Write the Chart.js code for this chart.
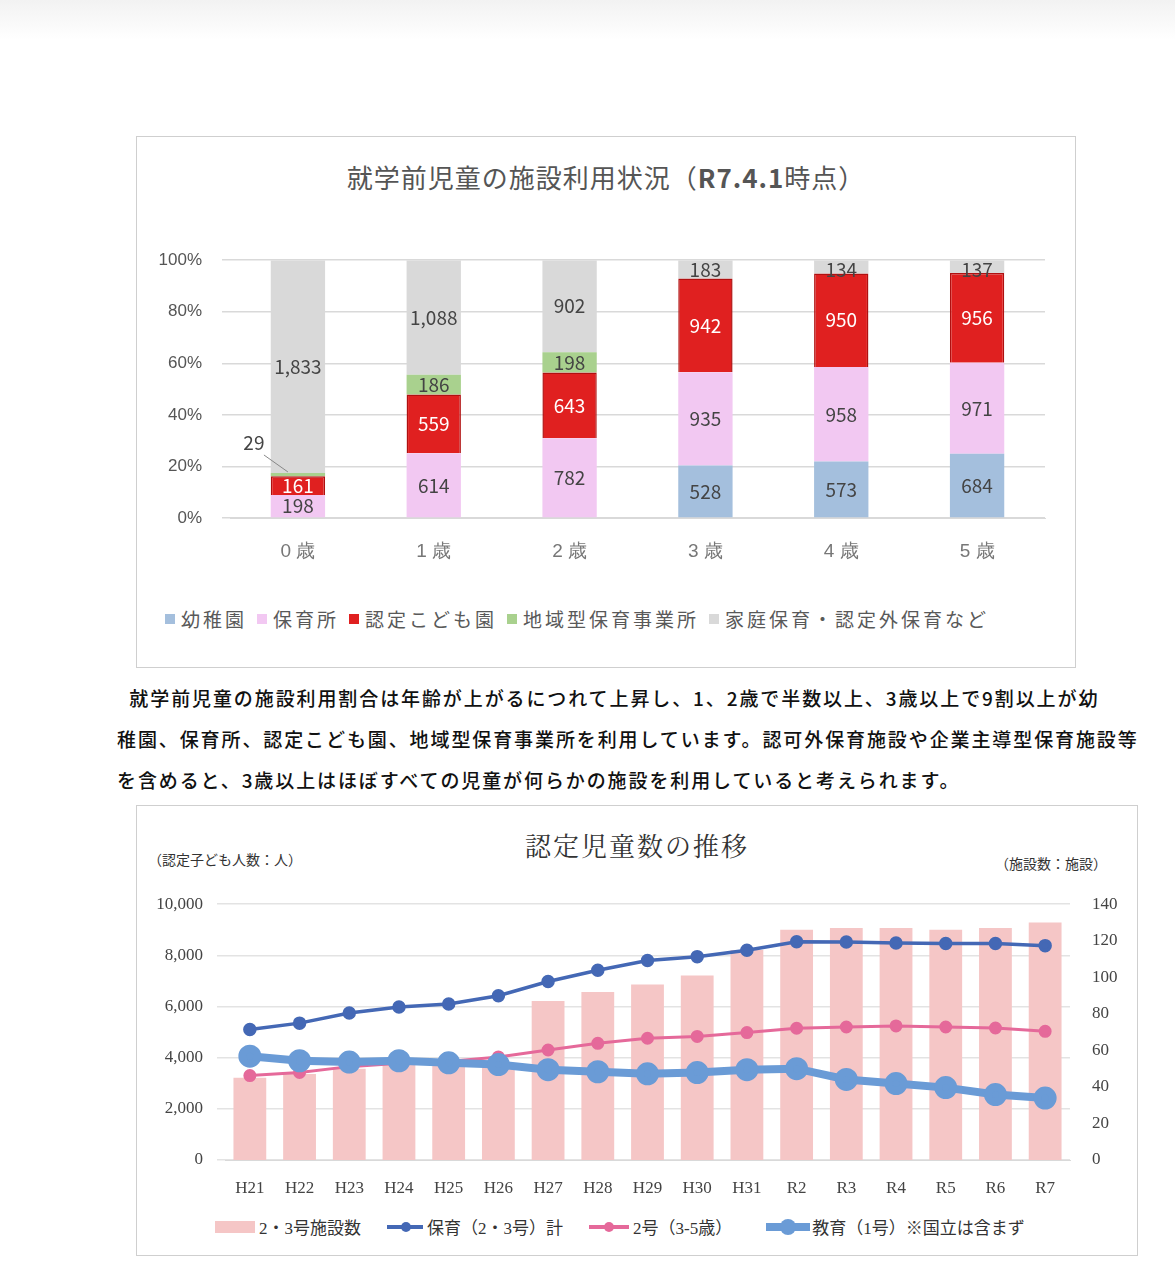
<!DOCTYPE html>
<html><head><meta charset="utf-8">
<script src="https://cdn.jsdelivr.net/npm/chart.js@4"></script>
<style>
body{margin:0;width:1175px;height:1265px;background:#fff;position:relative;font-family:"Noto Sans CJK JP",sans-serif;overflow:hidden}
.abs{position:absolute}
.box{position:absolute;border:1.5px solid #cfcfcf;box-sizing:border-box}
.leg{display:flex;align-items:center;white-space:nowrap}
.leg span{display:inline-flex;align-items:center}
.sq{display:inline-block;width:10px;height:10px;margin-right:6px}
</style></head><body>
<div class="abs" style="left:0;top:0;width:1175px;height:40px;background:linear-gradient(#f2f2f2,#fff)"></div>
<div class="box" style="left:136px;top:136px;width:940px;height:532px"></div>
<div class="abs" style="left:136px;top:158px;width:940px;text-align:center;font-size:26px;color:#555;letter-spacing:1px">就学前児童の施設利用状況（<b>R7.4.1</b>時点）</div>
<canvas id="c1" class="abs" width="910" height="345" style="left:150px;top:230px"></canvas>
<div class="abs leg" id="leg1" style="left:165px;top:605px;font-size:19px;color:#595959;letter-spacing:3px"></div>
<div class="abs" style="left:117px;top:677px;font-size:19px;line-height:41px;color:#111;font-weight:500;letter-spacing:1.9px;white-space:nowrap">
&nbsp;&nbsp;就学前児童の施設利用割合は年齢が上がるにつれて上昇し、1、2歳で半数以上、3歳以上で9割以上が幼<br>稚園、保育所、認定こども園、地域型保育事業所を利用しています。認可外保育施設や企業主導型保育施設等<br>を含めると、3歳以上はほぼすべての児童が何らかの施設を利用していると考えられます。</div>
<div class="box" style="left:136px;top:805px;width:1002px;height:451px"></div>
<div class="abs" style="left:136px;top:826px;width:1002px;text-align:center;font-size:26px;color:#333;letter-spacing:2px;font-family:'Noto Serif CJK JP','Liberation Serif',serif">認定児童数の推移</div>
<div class="abs" style="left:148px;top:849px;font-size:14px;color:#333">（認定子ども人数：人）</div>
<div class="abs" style="left:995px;top:853px;font-size:14px;color:#333">（施設数：施設）</div>
<canvas id="c2" class="abs" width="990" height="320" style="left:140px;top:880px"></canvas>
<div class="abs leg" style="left:215px;top:1214px;font-size:17px;color:#333;font-family:'Liberation Serif','Noto Sans CJK JP',serif">
<span><i style="display:inline-block;width:40px;height:12px;background:#f5c6c6;margin-right:4px"></i>2・3号施設数</span>
<span style="margin-left:26px"><i style="display:inline-block;width:36px;height:4px;background:#4468b5;margin-right:4px;position:relative"><b style="position:absolute;left:14px;top:-3px;width:10px;height:10px;border-radius:5px;background:#4468b5"></b></i>保育（2・3号）計</span>
<span style="margin-left:26px"><i style="display:inline-block;width:40px;height:4px;background:#e5699a;margin-right:4px;position:relative"><b style="position:absolute;left:15px;top:-3px;width:10px;height:10px;border-radius:5px;background:#e5699a"></b></i>2号（3-5歳）</span>
<span style="margin-left:34px"><i style="display:inline-block;width:44px;height:8px;background:#6a9bd6;margin-right:2px;position:relative"><b style="position:absolute;left:14px;top:-4px;width:16px;height:16px;border-radius:8px;background:#6a9bd6"></b></i>教育（1号）※国立は含まず</span>
</div>
<script>
// ---- chart 1 data ----
const ages=['0 歳','1 歳','2 歳','3 歳','4 歳','5 歳'];
const seriesNames=['幼稚園','保育所','認定こども園','地域型保育事業所','家庭保育・認定外保育など'];
const kindergarten=[0,0,0,528,573,684];
const nursery=[198,614,782,935,958,971];
const kodomoen=[161,559,643,942,950,956];
const regional=[29,186,198,0,0,0];
const home=[1833,1088,902,183,134,137];
const colors1=['#a4bfdd','#f2c8f2','#e02020','#a9d18e','#d9d9d9'];
// ---- chart 2 data ----
const years=['H21','H22','H23','H24','H25','H26','H27','H28','H29','H30','H31','R2','R3','R4','R5','R6','R7'];
const facilities=[45,47,50,52,52,53,87,92,96,101,115,126,127,127,126,127,130];
const hoikuTotal=[5100,5350,5750,5980,6100,6420,6980,7420,7800,7950,8200,8530,8520,8480,8460,8460,8380];
const no2=[3300,3420,3650,3780,3850,4030,4300,4560,4760,4830,4980,5150,5200,5240,5200,5160,5030];
const kyoiku=[4060,3880,3830,3880,3800,3730,3530,3450,3370,3420,3530,3570,3150,2990,2830,2560,2420];

const raw=[kindergarten,nursery,kodomoen,regional,home];
const totals=ages.map((_,i)=>raw.reduce((s,a)=>s+a[i],0));
document.getElementById('leg1').innerHTML=seriesNames.map((n,i)=>`<span style="margin-right:10px"><i class="sq" style="background:${colors1[i]}"></i>${n}</span>`).join('');

const labelPlugin={id:'lbl',afterDatasetsDraw(ch){
  const ctx=ch.ctx;ctx.save();ctx.font='19px "Noto Sans CJK JP"';ctx.textAlign='center';ctx.textBaseline='middle';
  ch.data.datasets.forEach((ds,di)=>{ch.getDatasetMeta(di).data.forEach((el,i)=>{
    const v=raw[di][i];if(!v)return;
    const txt=v.toLocaleString('en-US');
    const h=Math.abs(el.base-el.y);
    if(h<12){ctx.fillStyle='#444';ctx.fillText(txt,el.x-44,el.y-30);
      ctx.strokeStyle='#888';ctx.lineWidth=1;ctx.beginPath();ctx.moveTo(el.x-34,el.y-18);ctx.lineTo(el.x-10,el.y-1);ctx.stroke();return;}
    ctx.fillStyle=di===2?'#fff':'#444';
    let y=(el.y+el.base)/2; if(di===4&&h<30) y=el.y+10;
    ctx.fillText(txt,el.x,y);
  });});ctx.restore();}};

new Chart(document.getElementById('c1'),{type:'bar',
 data:{labels:ages,datasets:raw.map((a,di)=>({label:seriesNames[di],data:a.map((v,i)=>v/totals[i]*100),backgroundColor:colors1[di],
   borderColor:di===2?'#b01010':colors1[di],borderWidth:di===2?1.5:0,barPercentage:0.4,categoryPercentage:1}))},
 options:{responsive:false,animation:false,devicePixelRatio:1,
  layout:{padding:{top:13,right:15}},
  plugins:{legend:{display:false},tooltip:{enabled:false}},
  scales:{x:{stacked:true,grid:{display:false},border:{color:'#d9d9d9'},ticks:{color:'#777',font:{size:19},padding:14},afterFit(s){s.height=57;}},
   y:{stacked:true,min:0,max:100,ticks:{stepSize:20,color:'#555',font:{size:17},padding:20,callback:(v)=>v+'%'},grid:{color:'#d9d9d9',lineWidth:1.5},border:{display:false},afterFit(s){s.width=80;}}}},
 plugins:[labelPlugin]});

new Chart(document.getElementById('c2'),{type:'bar',
 data:{labels:years,datasets:[
  {type:'line',label:'保育（2・3号）計',data:hoikuTotal,borderColor:'#4468b5',backgroundColor:'#4468b5',borderWidth:3.5,pointRadius:5,yAxisID:'y',order:1},
  {type:'line',label:'2号（3-5歳）',data:no2,borderColor:'#e5699a',backgroundColor:'#e5699a',borderWidth:3,pointRadius:5,yAxisID:'y',order:2},
  {type:'line',label:'教育（1号）',data:kyoiku,borderColor:'#6a9bd6',backgroundColor:'#6a9bd6',borderWidth:8,pointRadius:7.5,yAxisID:'y',order:0},
  {type:'bar',label:'2・3号施設数',data:facilities,backgroundColor:'#f5c6c6',yAxisID:'y1',barPercentage:0.66,categoryPercentage:1,order:5}]},
 options:{responsive:false,animation:false,devicePixelRatio:1,
  layout:{padding:{top:11}},
  plugins:{legend:{display:false},tooltip:{enabled:false}},
  scales:{x:{grid:{display:false},border:{color:'#d9d9d9'},ticks:{color:'#444',font:{size:17,family:'Liberation Serif'},padding:10,maxRotation:0,autoSkip:false},afterFit(s){s.height=40;}},
   y:{position:'left',min:0,max:10000,ticks:{stepSize:2000,color:'#444',font:{size:17,family:'Liberation Serif'},padding:14,callback:v=>v.toLocaleString('en-US')},grid:{color:'#e3e3e3',lineWidth:1.5},border:{display:false},afterFit(s){s.width=85;}},
   y1:{position:'right',min:0,max:140,ticks:{stepSize:20,color:'#444',font:{size:17,family:'Liberation Serif'},padding:14},grid:{display:false},border:{display:false},afterFit(s){s.width=60;}}}}});
</script>
</body></html>
